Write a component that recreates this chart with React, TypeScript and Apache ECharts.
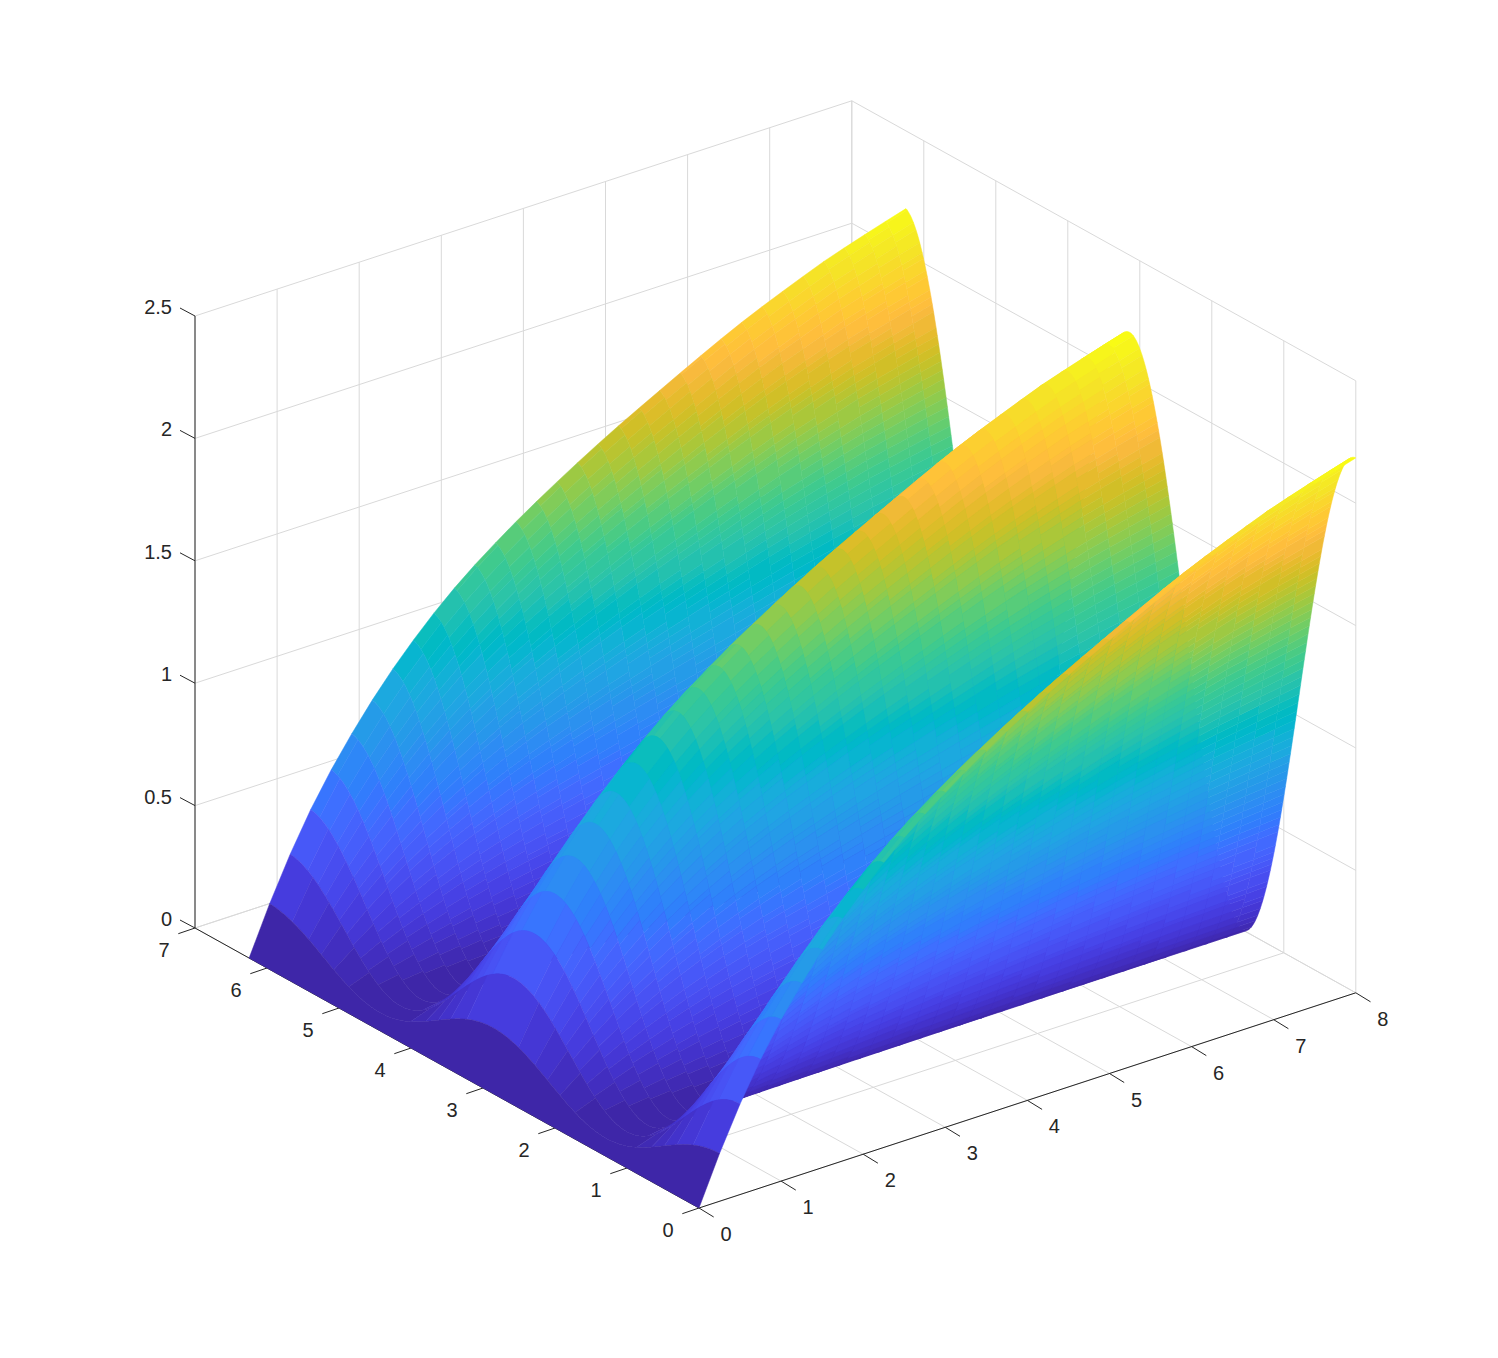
import React, { useEffect, useRef } from "react";
import * as echarts from "echarts";

// Tick labels
const xTicks = [0, 1, 2, 3, 4, 5, 6, 7, 8];
const yTicks = [0, 1, 2, 3, 4, 5, 6, 7];
const zTicks = [0, 0.5, 1, 1.5, 2, 2.5];
const zTickLabels = ["0", "0.5", "1", "1.5", "2", "2.5"];

// Surface grid along x
const xStations = [
  0, 0.25, 0.5, 0.75, 1, 1.25, 1.5, 1.75, 2, 2.25, 2.5, 2.75, 3, 3.25, 3.5, 3.75, 4,
  4.25, 4.5, 4.75, 5, 5.25, 5.5, 5.75, 6, 6.25, 6.5, 6.75, 7, 7.25, 7.5, 7.75, 8,
];
const crestHeight = [
  0, 0.195, 0.37, 0.525, 0.66, 0.78, 0.89, 0.99, 1.08, 1.163, 1.238, 1.306, 1.368, 1.427,
  1.482, 1.535, 1.586, 1.635, 1.682, 1.727, 1.771, 1.815, 1.858, 1.9, 1.94, 1.977, 2.012,
  2.046, 2.079, 2.107, 2.134, 2.16, 2.185,
];
// Cross-section from crest (0 deg) to valley (90 deg) in 1 degree steps, relative to
// the crest: a smooth curve fitted to the points read off the x = 8 edge. All lobes
// in the picture share it, so a lobe repeats every 180 degrees of y.
const lobeProfile = [
  1, 0.9997, 0.9988, 0.9973, 0.9951, 0.9924, 0.9891, 0.9851, 0.9806, 0.9755, 0.9698,
  0.9636, 0.9568, 0.9494, 0.9415, 0.933, 0.924, 0.9145, 0.9045, 0.894, 0.883, 0.8716,
  0.8597, 0.8473, 0.8346, 0.8214, 0.8078, 0.7939, 0.7796, 0.765, 0.75, 0.7347, 0.7192,
  0.7034, 0.6873, 0.671, 0.6545, 0.6378, 0.621, 0.604, 0.5868, 0.5696, 0.5523, 0.5349,
  0.5174, 0.5, 0.4826, 0.4651, 0.4477, 0.4304, 0.4132, 0.396, 0.379, 0.3622, 0.3455,
  0.329, 0.3127, 0.2966, 0.2808, 0.2653, 0.25, 0.235, 0.2204, 0.2061, 0.1922, 0.1786,
  0.1654, 0.1527, 0.1403, 0.1284, 0.117, 0.106, 0.0955, 0.0855, 0.076, 0.067, 0.0585,
  0.0506, 0.0432, 0.0364, 0.0302, 0.0245, 0.0194, 0.0149, 0.0109, 0.0076, 0.0049,
  0.0027, 0.0012, 0.0003, 0,
];

// Parula colour map, 64 levels
const parula = [
  [0.2422, 0.1504, 0.6603], [0.2504, 0.165, 0.7076], [0.2578, 0.1818, 0.7511], [0.2647, 0.1978, 0.7952],
  [0.2706, 0.2147, 0.8364], [0.2751, 0.2342, 0.871], [0.2783, 0.2559, 0.8991], [0.2803, 0.2782, 0.9221],
  [0.2813, 0.3006, 0.9414], [0.281, 0.3228, 0.9579], [0.2795, 0.3447, 0.9717], [0.276, 0.3667, 0.9829],
  [0.2699, 0.3892, 0.9906], [0.2602, 0.4123, 0.9952], [0.244, 0.4358, 0.9988], [0.2206, 0.4603, 0.9973],
  [0.1963, 0.4847, 0.9892], [0.1834, 0.5074, 0.9798], [0.1786, 0.5289, 0.9682], [0.1764, 0.5499, 0.952],
  [0.1687, 0.5703, 0.9359], [0.154, 0.5902, 0.9218], [0.146, 0.6091, 0.9079], [0.138, 0.6276, 0.8973],
  [0.1248, 0.6459, 0.8883], [0.1113, 0.6635, 0.8763], [0.0952, 0.6798, 0.8598], [0.0689, 0.6948, 0.8394],
  [0.0297, 0.7082, 0.8163], [0.0036, 0.7203, 0.7917], [0.0067, 0.7312, 0.766], [0.0433, 0.7411, 0.7394],
  [0.0964, 0.75, 0.712], [0.1408, 0.7584, 0.6842], [0.1717, 0.767, 0.6554], [0.1938, 0.7758, 0.6251],
  [0.2161, 0.7843, 0.5923], [0.247, 0.7918, 0.5567], [0.2906, 0.7973, 0.5188], [0.3406, 0.8008, 0.4789],
  [0.3909, 0.8029, 0.4354], [0.4456, 0.8024, 0.3909], [0.5044, 0.7993, 0.348], [0.5616, 0.7942, 0.3045],
  [0.6174, 0.7876, 0.2612], [0.672, 0.7793, 0.2227], [0.7242, 0.7698, 0.191], [0.7738, 0.7598, 0.1646],
  [0.8203, 0.7498, 0.1535], [0.8634, 0.7406, 0.1596], [0.9035, 0.733, 0.1774], [0.9393, 0.7288, 0.21],
  [0.9728, 0.7298, 0.2394], [0.9956, 0.7434, 0.2371], [0.997, 0.7659, 0.2199], [0.9952, 0.7893, 0.2028],
  [0.9892, 0.8136, 0.1885], [0.9786, 0.8386, 0.1766], [0.9676, 0.8639, 0.1643], [0.961, 0.889, 0.1537],
  [0.9597, 0.9135, 0.1423], [0.9628, 0.9373, 0.1265], [0.9691, 0.9606, 0.1064], [0.9769, 0.9839, 0.0805],
];
const levelColor = parula.map(
  ([r, g, b]) => `rgb(${Math.round(r * 255)},${Math.round(g * 255)},${Math.round(b * 255)})`,
);

// Orthographic view of the MATLAB axes box, in page pixels
const view = {
  ox: 699, oy: 1208,
  xx: 82.1, xy: -26.9,
  yx: -72, yy: -40,
  zy: -244.8,
};
const X_MAX = 8;
const Y_MAX = 7;
const Z_MAX = 2.5;
const DEGREES = 358; // the surface's far edge stops just short of y = 2*pi

const project = (x: number, y: number, z: number): [number, number] => [
  view.ox + view.xx * x + view.yx * y,
  view.oy + view.xy * x + view.yy * y + view.zy * z,
];

const profileAt = (deg: number) => {
  const k = deg % 180;
  return lobeProfile[k <= 90 ? k : 180 - k];
};
const yAt = (deg: number) => (deg * Math.PI) / 180;
const zAt = (i: number, deg: number) => crestHeight[i] * profileAt(deg);
const zTop = crestHeight[crestHeight.length - 1];
const levelOf = (z: number) => Math.min(63, Math.floor((z / zTop) * 64));

// Whether a facet shows its top or its underside on screen
const facing = (i: number, d: number) => {
  const a = project(xStations[i], yAt(d), zAt(i, d));
  const b = project(xStations[i], yAt(d + 1), zAt(i, d + 1));
  const c = project(xStations[i + 1], yAt(d + 1), zAt(i + 1, d + 1));
  const area = (b[0] - a[0]) * (c[1] - a[1]) - (b[1] - a[1]) * (c[0] - a[0]);
  return area >= 0;
};

type Run = { level: number; pts: [number, number, number][] };

// Flat shaded facets, far ones first; neighbours with one colour and one facing are
// merged (merging across a fold would leave holes under the nonzero fill rule)
const buildRuns = (): Run[] => {
  const runs: Run[] = [];
  for (let i = xStations.length - 2; i >= 0; i--) {
    let d = DEGREES - 1;
    while (d >= 0) {
      const level = levelOf(zAt(i, d));
      const side = facing(i, d);
      let low = d;
      while (low - 1 >= 0 && levelOf(zAt(i, low - 1)) === level && facing(i, low - 1) === side) low--;
      const pts: [number, number, number][] = [];
      for (let q = low; q <= d + 1; q++) pts.push([xStations[i], yAt(q), zAt(i, q)]);
      for (let q = d + 1; q >= low; q--) pts.push([xStations[i + 1], yAt(q), zAt(i + 1, q)]);
      runs.push({ level, pts });
      d = low - 1;
    }
  }
  return runs;
};

type Seg = [number, number, number, number, number, number];

const wallSegments = (): Seg[] => {
  const s: Seg[] = [];
  for (const x of xTicks) {
    s.push([x, Y_MAX, 0, x, Y_MAX, Z_MAX]);
    s.push([x, 0, 0, x, Y_MAX, 0]);
  }
  for (const y of yTicks) {
    s.push([X_MAX, y, 0, X_MAX, y, Z_MAX]);
    s.push([0, y, 0, X_MAX, y, 0]);
  }
  for (const z of zTicks) {
    s.push([0, Y_MAX, z, X_MAX, Y_MAX, z]);
    s.push([X_MAX, 0, z, X_MAX, Y_MAX, z]);
  }
  return s;
};

const axisSegments: Seg[] = [
  [0, 0, 0, X_MAX, 0, 0],
  [0, 0, 0, 0, Y_MAX, 0],
  [0, Y_MAX, 0, 0, Y_MAX, Z_MAX],
];

const INK = "#262626";
const FONT = '"Liberation Sans", Arial, sans-serif';

type Lab = { text: string; at: [number, number, number]; dx: number; dy: number; align: string };
type Tick = { at: [number, number, number]; dx: number; dy: number };

const labels: Lab[] = [
  ...xTicks.map((v) => ({ text: String(v), at: [v, 0, 0] as [number, number, number], dx: 27, dy: 26, align: "center" })),
  ...yTicks.map((v) => ({ text: String(v), at: [0, v, 0] as [number, number, number], dx: -31, dy: 22, align: "center" })),
  ...zTicks.map((v, i) => ({ text: zTickLabels[i], at: [0, Y_MAX, v] as [number, number, number], dx: -23, dy: -9, align: "right" })),
];
const ticks: Tick[] = [
  ...xTicks.map((v) => ({ at: [v, 0, 0] as [number, number, number], dx: 14.7, dy: 9 })),
  ...yTicks.map((v) => ({ at: [0, v, 0] as [number, number, number], dx: -16.7, dy: 5.7 })),
  ...zTicks.map((v) => ({ at: [0, Y_MAX, v] as [number, number, number], dx: -15, dy: -8 })),
];

const ids = (n: number) => Array.from({ length: n }, (_, i) => [i]);

export default function App() {
  const ref = useRef<HTMLDivElement>(null);
  useEffect(() => {
    if (!ref.current) return;
    const chart = echarts.init(ref.current, null, { renderer: "svg" });
    const walls = wallSegments();
    const runs = buildRuns();

    const lineItem = (seg: Seg, api: any, stroke: string) => {
      const a = api.coord(project(seg[0], seg[1], seg[2]));
      const b = api.coord(project(seg[3], seg[4], seg[5]));
      return {
        type: "line",
        shape: { x1: a[0], y1: a[1], x2: b[0], y2: b[1] },
        style: { stroke, lineWidth: 1, fill: null },
      };
    };
    const base = { type: "custom", coordinateSystem: "cartesian2d", clip: false, silent: true, progressive: 0, animation: false };

    chart.setOption({
      animation: false,
      backgroundColor: "#ffffff",
      tooltip: { show: false },
      grid: { left: 0, right: 0, top: 0, bottom: 0 },
      xAxis: { type: "value", min: 0, max: 1498, show: false },
      yAxis: { type: "value", min: 0, max: 1358, inverse: true, show: false },
      series: [
        {
          ...base,
          name: "walls",
          data: ids(walls.length),
          renderItem: (p: any, api: any) => lineItem(walls[p.dataIndex], api, "#d9d9d9"),
        },
        {
          ...base,
          name: "axes",
          data: ids(axisSegments.length),
          renderItem: (p: any, api: any) => lineItem(axisSegments[p.dataIndex], api, INK),
        },
        {
          ...base,
          name: "ticks",
          data: ids(ticks.length),
          renderItem: (p: any, api: any) => {
            const t = ticks[p.dataIndex];
            const a = api.coord(project(t.at[0], t.at[1], t.at[2]));
            return {
              type: "line",
              shape: { x1: a[0], y1: a[1], x2: a[0] + t.dx, y2: a[1] + t.dy },
              style: { stroke: INK, lineWidth: 1, fill: null },
            };
          },
        },
        {
          ...base,
          name: "surface",
          data: ids(runs.length),
          renderItem: (p: any, api: any) => {
            const r = runs[p.dataIndex];
            const c = levelColor[r.level];
            return {
              type: "polygon",
              shape: { points: r.pts.map((q) => api.coord(project(q[0], q[1], q[2]))) },
              style: { fill: c, stroke: c, lineWidth: 0.5, lineJoin: "round" },
            };
          },
        },
        {
          ...base,
          name: "labels",
          data: ids(labels.length),
          renderItem: (p: any, api: any) => {
            const l = labels[p.dataIndex];
            const a = api.coord(project(l.at[0], l.at[1], l.at[2]));
            return {
              type: "text",
              x: a[0] + l.dx,
              y: a[1] + l.dy,
              style: {
                text: l.text,
                fill: INK,
                font: `20px ${FONT}`,
                textAlign: l.align,
                textVerticalAlign: "middle",
              },
            };
          },
        },
      ],
    });
    return () => chart.dispose();
  }, []);
  return <div ref={ref} style={{ position: "absolute", left: 0, top: 0, width: 1498, height: 1358 }} />;
}
